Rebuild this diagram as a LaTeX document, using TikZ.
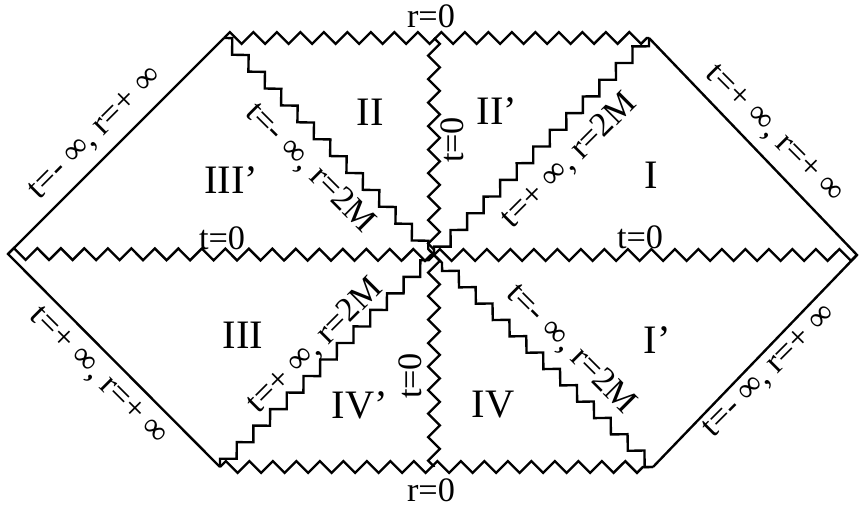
\documentclass[tikz,border=0pt]{standalone}
\usepackage{fontspec}
\setmainfont{Liberation Serif}
\usetikzlibrary{decorations.pathmorphing}

\begin{document}
\begin{tikzpicture}[
    x=0.02cm, y=-0.02cm,
    edge/.style={line width=1.35pt, line join=miter},
    wavy/.style={line width=1.35pt, decorate, decoration={zigzag, segment length=0.47cm, amplitude=0.1175cm}},
    lbl/.style={inner sep=0pt, font=\fontsize{19.5}{22}\selectfont},
    region/.style={inner sep=0pt, font=\fontsize{23}{27}\selectfont}
]
\useasboundingbox (0,0) rectangle (859,506);

% Corners
\coordinate (L) at (8,254);
\coordinate (TL) at (224,38);
\coordinate (T) at (434,38);
\coordinate (TR) at (649,38);
\coordinate (R) at (857,255);
\coordinate (BR) at (653,467);
\coordinate (B) at (434,467);
\coordinate (BL) at (220,467);
\coordinate (C) at (434,255);

% Outer edges
\draw[edge] (TL) -- (L) -- (BL);
\draw[edge] (TR) -- (R) -- (BR);

% Singularities and horizons
\draw[wavy] (TL) -- (TR);
\draw[wavy] (BL) -- (BR);
\draw[wavy] (L) -- (C);
\draw[wavy] (C) -- (R);
\draw[wavy] (T) -- (C);
\draw[wavy] (C) -- (B);
\draw[wavy] (TL) -- (C);
\draw[wavy] (TR) -- (C);
\draw[wavy] (BL) -- (C);
\draw[wavy] (BR) -- (C);

% Edge labels
\node[lbl, rotate=45] (eUL) at (96,134) {t=- ∞, r=+ ∞};
\node[lbl, rotate=-45] (eUR) at (774,135) {t=+ ∞, r=+ ∞};
\node[lbl, rotate=-45] (eLL) at (98,377) {t=+ ∞, r=+ ∞};
\node[lbl, rotate=45] (eLR) at (770,372) {t=- ∞, r=+ ∞};

% Horizon labels
\node[lbl, rotate=-45] (dUL) at (310,168) {t=- ∞, r=2M};
\node[lbl, rotate=45] (dUR) at (569,161) {t=+ ∞, r=2M};
\node[lbl, rotate=45] (dLL) at (315,346) {t=+ ∞, r=2M};
\node[lbl, rotate=-45] (dLR) at (571,349) {t=- ∞, r=2M};

% t=0 and r=0
\node[lbl, rotate=90] (vU) at (452,140) {t=0};
\node[lbl, rotate=90] (vD) at (410,376) {t=0};
\node[lbl] (hL) at (222,238) {t=0};
\node[lbl] (hR) at (640,237) {t=0};
\node[lbl] (rT) at (431,16) {r=0};
\node[lbl] (rB) at (431,490) {r=0};

% Regions
\node[region] (I) at (651,175) {I};
\node[region] (II) at (370,112) {II};
\node[region] (IIp) at (497,111) {II'};
\node[region] (IIIp) at (231,180) {III'};
\node[region] (III) at (243,335) {III};
\node[region] (Ip) at (657,340) {I'};
\node[region] (IVp) at (360,405) {IV'};
\node[region] (IV) at (493,405) {IV};

\end{tikzpicture}
\end{document}
